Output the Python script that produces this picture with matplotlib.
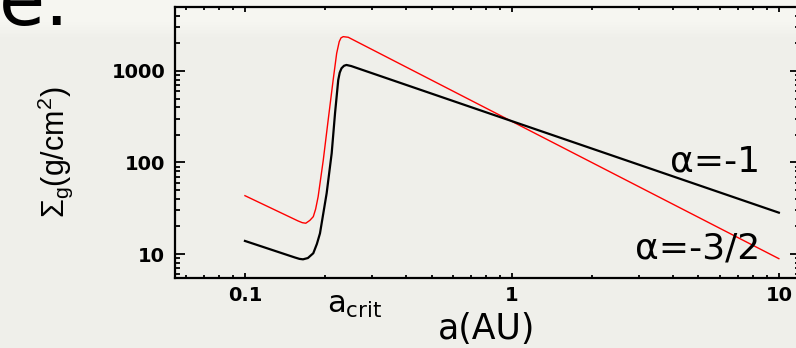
import matplotlib
matplotlib.use("Agg")
import matplotlib.pyplot as plt
from matplotlib.patches import Rectangle
from matplotlib.colors import to_rgb
from matplotlib.ticker import LogLocator, NullFormatter, FixedLocator, FixedFormatter

# surface density profiles (a in AU, sigma_g in g/cm^2)
a_alpha1 = [0.1, 0.1539, 0.160, 0.165, 0.1721, 0.1803, 0.186, 0.191, 0.2023, 0.2113,
            0.2175, 0.2236, 0.2265, 0.230, 0.235, 0.240, 0.25, 1.0, 10.0]
sig_alpha1 = [13.9, 9.16, 8.85, 8.75, 9.04, 10.2, 12.9, 16.8, 46, 126,
              345, 797, 960, 1070, 1140, 1163, 1132, 283, 28.3]

a_alpha32 = [0.1, 0.158, 0.164, 0.169, 0.175, 0.1803, 0.184, 0.188, 0.1965, 0.205,
             0.214, 0.2206, 0.2255, 0.229, 0.2334, 0.2437, 1.0, 10.0]
sig_alpha32 = [43.4, 23.0, 22.0, 21.7, 23.3, 25.6, 31.0, 42.3, 106, 291,
               797, 1560, 2090, 2300, 2372, 2335, 281, 8.9]

x_ticks = [0.1, 1, 10]
x_labels = ["0.1", "1", "10"]
y_ticks = [10, 100, 1000]
y_labels = ["10", "100", "1000"]

W, H = 796, 348
bg = "#efefea"
top = "#f6f6f1"

fig = plt.figure(figsize=(W / 100, H / 100), dpi=100, facecolor=bg)

# lighter strip at the top of the slide, fading out
c0, c1 = to_rgb(top), to_rgb(bg)
n = 12
for i in range(n):
    f = i / (n - 1)
    col = tuple(c0[k] * (1 - f) + c1[k] * f for k in range(3))
    y0 = H - 22 - i * 1.5
    fig.patches.append(Rectangle((0, y0 / H), 1, 1.5 / H, transform=fig.transFigure,
                                 facecolor=col, edgecolor="none", zorder=-5))
fig.patches.append(Rectangle((0, (H - 22) / H), 1, 22 / H, transform=fig.transFigure,
                             facecolor=top, edgecolor="none", zorder=-5))

# bit of the slide title that sticks in
fig.text(70 / W, (H - 25) / H, "e:", ha="right", va="baseline", fontsize=54,
         family="DejaVu Sans", color="black")

ax = fig.add_axes([175 / W, (H - 278) / H, 625 / W, 271 / H])
ax.set_facecolor("none")
ax.set_xscale("log")
ax.set_yscale("log")
ax.set_xlim(0.0547, 12.0)
ax.set_ylim(5.47, 5000)

ax.plot(a_alpha32, sig_alpha32, color="red", lw=1.0)
ax.plot(a_alpha1, sig_alpha1, color="black", lw=1.6)

for sp in ax.spines.values():
    sp.set_linewidth(1.6)

ax.xaxis.set_major_locator(FixedLocator(x_ticks))
ax.xaxis.set_major_formatter(FixedFormatter(x_labels))
ax.yaxis.set_major_locator(FixedLocator(y_ticks))
ax.yaxis.set_major_formatter(FixedFormatter(y_labels))
ax.xaxis.set_minor_locator(LogLocator(base=10, subs=range(2, 10)))
ax.yaxis.set_minor_locator(LogLocator(base=10, subs=range(2, 10)))
ax.xaxis.set_minor_formatter(NullFormatter())
ax.yaxis.set_minor_formatter(NullFormatter())

ax.tick_params(which="both", direction="in", top=True, right=True, width=1.3)
ax.tick_params(axis="y", which="major", length=7.2, pad=7)
ax.tick_params(axis="y", which="minor", length=3.6)
ax.tick_params(axis="x", which="major", length=3.6, pad=6)
ax.tick_params(axis="x", which="minor", length=2.2)
for lab in ax.get_xticklabels() + ax.get_yticklabels():
    lab.set_fontweight("bold")
    lab.set_fontsize(14)
    lab.set_family("DejaVu Sans")

# curve labels
ax.text(8.5, 80.7, "α=-1", ha="right", va="baseline", fontsize=26,
        family="DejaVu Sans")
ax.text(8.5, 9.0, "α=-3/2", ha="right", va="baseline", fontsize=26,
        family="DejaVu Sans")

# axis labels
fig.text(327 / W, (H - 313) / H, r"$\mathregular{a_{crit}}$", ha="left",
         va="baseline", fontsize=22, family="DejaVu Sans")
fig.text(487 / W, (H - 339) / H, "a(AU)", ha="center", va="baseline",
         fontsize=25, family="DejaVu Sans")
fig.text(55 / W, (H - 152) / H,
         r"$\mathregular{\Sigma_g}$(g/cm$\mathregular{^2}$)",
         rotation=90, ha="center", va="center", fontsize=22,
         family="Liberation Sans")

fig.savefig("out.png", dpi=100, facecolor=bg)
